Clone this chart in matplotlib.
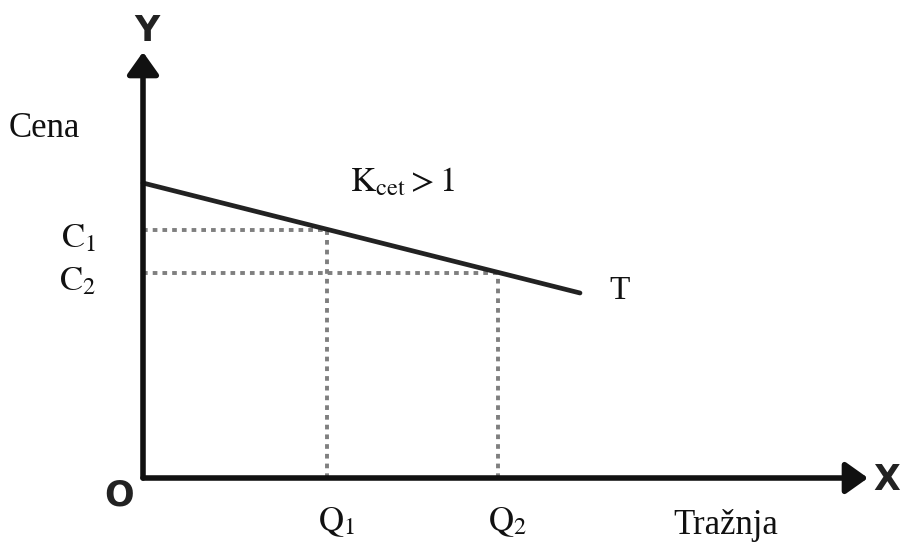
import matplotlib

matplotlib.use("Agg")
import matplotlib.pyplot as plt

# sketch units: 1 unit ~ 100 px of the reference
AXIS_X_END = 7.25
AXIS_Y_END = 4.26

demand_q = [0.0, 4.37]
demand_p = [2.95, 1.85]
q_points = [1.84, 3.55]
c_points = [2.48, 2.05]
q_labels = ["$\\mathrm{Q}_1$", "$\\mathrm{Q}_2$"]
c_labels = ["$\\mathrm{C}_1$", "$\\mathrm{C}_2$"]

INK = "#111111"
DOT = "#7f7f7f"
SERIF = "Liberation Serif"

plt.rcParams["mathtext.fontset"] = "stix"

fig = plt.figure(figsize=(9.15, 5.47), dpi=100, facecolor="white")
ax = fig.add_axes([0, 0, 1, 1])
ax.set_xlim(-1.43, 7.72)
ax.set_ylim(-0.69, 4.78)
ax.axis("off")

# guide lines from axes to the demand curve
dots = dict(color=DOT, lw=2.8, linestyle=(0, (1.2, 1.3)), zorder=1)
for q, c in zip(q_points, c_points):
    ax.plot([0, q], [c, c], **dots)
    ax.plot([q, q], [0, c], **dots)

# demand curve
ax.plot(demand_q, demand_p, color="#222222", lw=3.4, solid_capstyle="round", zorder=3)

# axes with arrowheads
arrow = dict(arrowstyle="-|>,head_length=0.45,head_width=0.32", lw=4.0, color=INK,
             mutation_scale=30, shrinkA=0, shrinkB=0)
ax.annotate("", xy=(0, AXIS_Y_END), xytext=(0, 0), arrowprops=arrow, zorder=4)
ax.annotate("", xy=(AXIS_X_END, 0), xytext=(0, 0), arrowprops=arrow, zorder=4)

bold = dict(family="DejaVu Sans", fontweight="bold", fontsize=25, color="#222222")
ax.text(0.04, 4.47, "Y", ha="center", va="center", **bold)
ax.text(7.44, -0.02, "X", ha="center", va="center", **bold)
ax.text(-0.24, -0.17, "O", ha="center", va="center", **bold)

ax.text(-1.34, 3.5, "Cena", family=SERIF, fontsize=25, ha="left", va="center", color=INK)
for c, lab, dy in zip(c_points, c_labels, [-0.07, -0.07]):
    ax.text(-0.47, c + dy, lab, fontsize=25, ha="right", va="center", color=INK)
for q, lab in zip(q_points, q_labels):
    ax.text(q + 0.1, -0.44, lab, fontsize=25, ha="center", va="center", color=INK)

ax.text(5.3, -0.47, "Tražnja", family=SERIF, fontsize=25, ha="left", va="center", color=INK)
ax.text(2.07, 2.97, "$\\mathrm{K}_{\\mathrm{cet}} > 1$", fontsize=25, ha="left", va="center", color=INK)
ax.text(4.77, 1.87, "T", family=SERIF, fontsize=24, ha="center", va="center", color=INK)

fig.savefig("out.png", dpi=100, facecolor="white")
plt.close(fig)
